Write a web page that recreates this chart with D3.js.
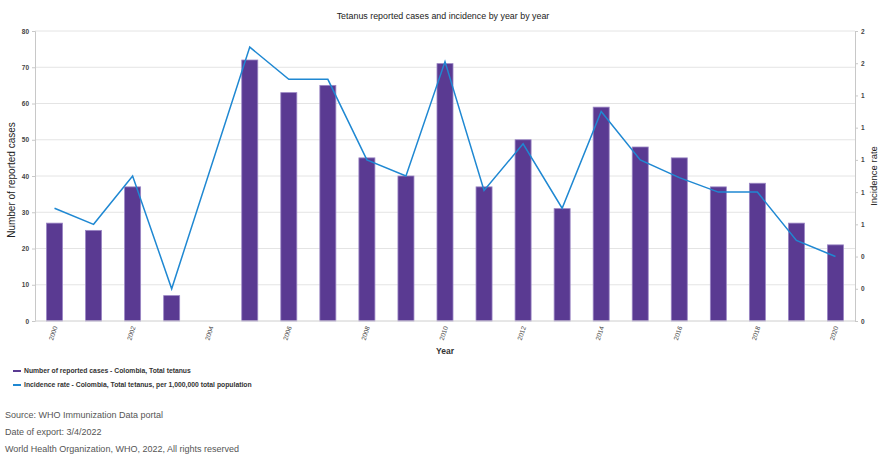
<!DOCTYPE html>
<html><head><meta charset="utf-8">
<script src="https://cdn.jsdelivr.net/npm/d3@7"></script>
<style>
body{margin:0;background:#fff;}
svg{display:block;font-family:"Liberation Sans",Arial,sans-serif;}
</style></head>
<body>
<svg id="chart" width="878" height="455"></svg>
<script>
const years = ["2000","2001","2002","2003","2004","2005","2006","2007","2008","2009","2010","2011","2012","2013","2014","2015","2016","2017","2018","2019","2020"];
const cases = [27,25,37,7,null,72,63,65,45,40,71,37,50,31,59,48,45,37,38,27,21];
const incidence = [0.70,0.60,0.90,0.20,null,1.70,1.50,1.50,1.00,0.90,1.61,0.81,1.10,0.70,1.30,1.00,0.89,0.80,0.80,0.50,0.40];
const leftTicks = [0,10,20,30,40,50,60,70,80];
const rightTicks = [0,0.2,0.4,0.6,0.8,1.0,1.2,1.4,1.6,1.8];
const xLabelYears = ["2000","2002","2004","2006","2008","2010","2012","2014","2016","2018","2020"];
const titleText = "Tetanus reported cases and incidence by year by year";
const legendItems = ["Number of reported cases - Colombia, Total tetanus","Incidence rate - Colombia, Total tetanus, per 1,000,000 total population"];
const footerLines = ["Source: WHO Immunization Data portal","Date of export: 3/4/2022","World Health Organization, WHO, 2022, All rights reserved"];

const svg = d3.select("#chart");
const L = 35, R = 855, T = 31, B = 321;
const barColor = "#5a3a92", lineColor = "#1f88d2";

const x = d3.scaleBand().domain(years).range([L, R]).paddingInner(0.59).paddingOuter(0.295);
const yL = d3.scaleLinear().domain([0, 80]).range([B, T]);
const yR = d3.scaleLinear().domain([0, 1.8]).range([B, T]);

// gridlines
svg.append("g").selectAll("line").data(leftTicks).join("line")
  .attr("x1", L).attr("x2", R).attr("y1", d => yL(d)).attr("y2", d => yL(d))
  .attr("stroke", "#e4e4e4").attr("stroke-width", 1);

// title
svg.append("text").attr("x", 443).attr("y", 19).attr("text-anchor", "middle")
  .attr("font-size", 8.9).attr("fill", "#222").text(titleText);

// bars
svg.append("g").selectAll("rect").data(years.map((y, i) => ({y, v: cases[i]})).filter(d => d.v != null)).join("rect")
  .attr("x", d => x(d.y)).attr("width", x.bandwidth())
  .attr("y", d => yL(d.v)).attr("height", d => yL(0) - yL(d.v))
  .attr("fill", barColor).attr("stroke", "#9a86c4").attr("stroke-width", 0.8);

// line
const lineData = years.map((y, i) => ({y, v: incidence[i]})).filter(d => d.v != null);
svg.append("path").datum(lineData)
  .attr("d", d3.line().x(d => x(d.y) + x.bandwidth() / 2).y(d => yR(d.v)))
  .attr("fill", "none").attr("stroke", lineColor).attr("stroke-width", 1.5);

// left axis
const gL = svg.append("g").attr("transform", `translate(${L},0)`)
  .call(d3.axisLeft(yL).tickValues(leftTicks).tickSize(3).tickPadding(3));
gL.select(".domain").attr("stroke", "#c8c8c8");
gL.selectAll(".tick line").attr("stroke", "#c8c8c8");
gL.selectAll("text").attr("font-size", 6.5).attr("font-weight", "bold").attr("fill", "#444").attr("font-family", "Liberation Sans, Arial, sans-serif");

// right axis
const gR = svg.append("g").attr("transform", `translate(${R},0)`)
  .call(d3.axisRight(yR).tickValues(rightTicks).tickFormat(d3.format(".0f")).tickSize(3).tickPadding(3));
gR.select(".domain").attr("stroke", "#c8c8c8");
gR.selectAll(".tick line").attr("stroke", "#c8c8c8");
gR.selectAll("text").attr("font-size", 6.5).attr("font-weight", "bold").attr("fill", "#444").attr("font-family", "Liberation Sans, Arial, sans-serif");

// bottom axis
const gB = svg.append("g").attr("transform", `translate(0,${B})`)
  .call(d3.axisBottom(x).tickValues(xLabelYears).tickSize(0).tickPadding(0));
gB.select(".domain").attr("stroke", "#dcdcdc").attr("d", `M${L},0H${R}`);
gB.selectAll("text")
  .attr("font-size", 6.5).attr("fill", "#444").attr("font-family", "Liberation Sans, Arial, sans-serif")
  .attr("text-anchor", "end").attr("dy", 0).attr("y", 0)
  .attr("transform", "translate(3,6) rotate(-72)");

// axis titles
svg.append("text").attr("x", 445).attr("y", 354).attr("text-anchor", "middle")
  .attr("font-size", 8.5).attr("font-weight", "bold").attr("fill", "#333").text("Year");
svg.append("text").attr("transform", "translate(15,180) rotate(-90)").attr("text-anchor", "middle")
  .attr("font-size", 10).attr("fill", "#222").text("Number of reported cases");
svg.append("text").attr("transform", "translate(877,176) rotate(-90)").attr("text-anchor", "middle")
  .attr("font-size", 9.5).attr("fill", "#222").text("Incidence rate");

// legend
const lg = svg.append("g");
const legColors = [barColor, lineColor];
legendItems.forEach((t, i) => {
  const yy = 370 + i * 14;
  lg.append("line").attr("x1", 13).attr("x2", 21).attr("y1", yy + 1).attr("y2", yy + 1)
    .attr("stroke", legColors[i]).attr("stroke-width", 2);
  lg.append("text").attr("x", 24).attr("y", yy + 2.5).attr("font-size", 6.8).attr("font-weight", "bold")
    .attr("fill", "#333").text(t);
});

// footer
footerLines.forEach((t, i) => {
  svg.append("text").attr("x", 5).attr("y", 418 + i * 17).attr("font-size", 9).attr("fill", "#555").text(t);
});
</script>
</body></html>
